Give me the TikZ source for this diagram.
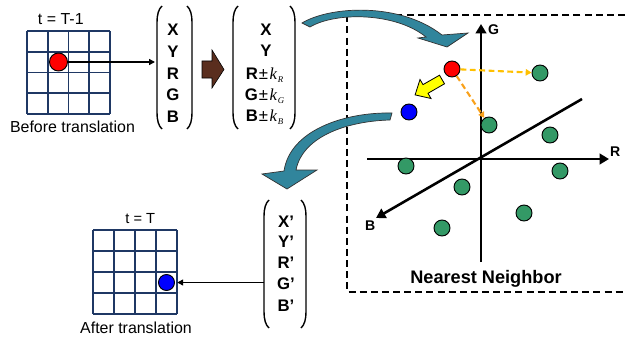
\documentclass[tikz,border=0pt]{standalone}
\usepackage{fontspec}
\setmainfont{Liberation Sans}
\newfontfamily\tnr{Liberation Serif}
\usetikzlibrary{arrows.meta}
\definecolor{gridblue}{HTML}{1F3864}
\definecolor{arrowteal}{HTML}{31859C}
\definecolor{dotgreen}{HTML}{339966}
\definecolor{arrowbrown}{HTML}{5A2E1E}
\definecolor{nnyellow}{HTML}{FFC000}
\definecolor{nnorange}{HTML}{F9A11B}
\definecolor{blockyellow}{HTML}{FFFF00}
\tikzset{
 gridline/.style={gridblue, line width=1.6pt},
 ptdot/.style={circle, draw=black, line width=0.8pt, minimum size=0.48cm, inner sep=0},
 conn/.style={line width=1.1pt, -{Triangle[length=5pt,width=5pt]}},
 paren/.style={line width=1.2pt},
 vecl/.style={font=\bfseries\fontsize{14.3}{16}\selectfont, anchor=base, inner sep=0},
 lbl/.style={font=\fontsize{13.6}{16}\selectfont, anchor=base, inner sep=0},
 axisline/.style={line width=2.2pt},
 axisarrow/.style={line width=2.2pt, -{Triangle[length=8pt,width=9pt]}},
 axlbl/.style={font=\bfseries\fontsize{12}{14}\selectfont, anchor=base west, inner sep=0},
 nnarrow/.style={line width=1.8pt, dash pattern=on 5pt off 3pt, -{Triangle[length=5pt,width=5.5pt]}},
 bigarrow/.style={fill=arrowteal, draw=black!80, line width=0.6pt},
 vecbox/.style={inner sep=0, minimum height=3.7cm},
}
\newcommand\myLParen[3]{\draw[paren] ({#1+5},#2) .. controls ({#1+1.5},{#2+3}) and (#1,{#2+9}) .. (#1,{#2+16}) -- (#1,{#3-16}) .. controls (#1,{#3-9}) and ({#1+1.5},{#3-3}) .. ({#1+5},#3);}
\newcommand\myRParen[3]{\draw[paren] ({#1-5},#2) .. controls ({#1-1.5},{#2+3}) and (#1,{#2+9}) .. (#1,{#2+16}) -- (#1,{#3-16}) .. controls (#1,{#3-9}) and ({#1-1.5},{#3-3}) .. ({#1-5},#3);}
\newcommand\pmk[2]{#1{\mdseries\hspace{0.8pt}±\hspace{1.5pt}}{\tnr\mdseries\itshape k\hspace{0.6pt}\raisebox{-2.8pt}{\fontsize{7.5}{8}\selectfont #2}}}
\begin{document}
\begin{tikzpicture}[x=0.03cm,y=-0.03cm]
\useasboundingbox (0,0) rectangle (625,339);

% ---------- top-left grid ----------
\foreach \i in {0,...,4} {
  \draw[gridline] ({27+\i*20.75},31) -- ({27+\i*20.75},114);
  \draw[gridline] (27,{31+\i*20.75}) -- (110,{31+\i*20.75});
}
\node[inner sep=0, minimum width=2.49cm, minimum height=2.49cm] (grid1) at (68.5,72.5) {};
\node[ptdot, fill=red, minimum size=0.54cm] (red1) at (58.5,62) {};
\node[lbl] (tlabel1) at (60.8,24.5) {t = T-1};
\node[lbl] (before) at (72.5,132) {Before translation};

% ---------- vector 1 ----------
\node[vecbox, minimum width=1.05cm] (vec1) at (174.5,67.5) {};
\myLParen{157}{6}{129}
\myRParen{192}{6}{129}
\node[vecl] (v1x) at (173,36) {X};
\node[vecl] (v1y) at (173,57.5) {Y};
\node[vecl] (v1r) at (173,79) {R};
\node[vecl] (v1g) at (173,100.5) {G};
\node[vecl] (v1b) at (173,122) {B};
\draw[conn, shorten >=1.5pt] (red1.east) -- (red1.east -| vec1.west);

% ---------- brown block arrow ----------
\draw[fill=arrowbrown, draw=black, line width=0.5pt]
  (202,61) -- (212,61) -- (212,50) -- (224,69.5) -- (212,88) -- (212,78) -- (202,78) -- cycle;

% ---------- vector 2 ----------
\node[vecbox, minimum width=1.86cm] (vec2) at (264,67.5) {};
\myLParen{233}{6}{129}
\myRParen{295}{6}{129}
\node[vecl] (v2x) at (266,35.5) {X};
\node[vecl] (v2y) at (266,57) {Y};
\node[vecl] (v2r) at (264.5,79) {\pmk{R}{R}};
\node[vecl] (v2g) at (264.5,100.5) {\pmk{G}{G}};
\node[vecl] (v2b) at (264.5,121.5) {\pmk{B}{B}};

% ---------- nearest neighbour box ----------
\draw[line width=1.9pt, dash pattern=on 6pt off 3.5pt] (625,15) -- (347,15) -- (347,292) -- (625,292);
\node[font=\bfseries\fontsize{15.5}{18}\selectfont, anchor=base, inner sep=0] (nn) at (486,283) {Nearest Neighbor};

% axes
\coordinate (origin) at (481,159);
\draw[axisline] (origin) -- (481,262);
\draw[axisarrow] (481,262) -- (481,24);
\draw[axisarrow] (367,159) -- (609,159);
\draw[axisarrow] (582,99) -- (376,218);
\node[axlbl] (Glab) at (488,34) {G};
\node[axlbl] (Rlab) at (610,156.5) {R};
\node[axlbl] (Blab) at (365,230) {B};

% dots
\node[ptdot, fill=dotgreen] (g1) at (540,73) {};
\node[ptdot, fill=dotgreen] (g2) at (489,125) {};
\node[ptdot, fill=dotgreen] (g3) at (550,135) {};
\node[ptdot, fill=dotgreen] (g4) at (406,166) {};
\node[ptdot, fill=dotgreen] (g5) at (560,171) {};
\node[ptdot, fill=dotgreen] (g6) at (462,187) {};
\node[ptdot, fill=dotgreen] (g7) at (442,228) {};
\node[ptdot, fill=dotgreen] (g8) at (524,213) {};
\node[ptdot, fill=red] (red2) at (452,69) {};
\node[ptdot, fill=blue] (blue2) at (409,112) {};

\draw[nnarrow, nnyellow] (red2) -- (g1);
\draw[nnarrow, nnorange] (red2) -- (g2);

% yellow block arrow
\draw[fill=blockyellow, draw=black, line width=0.7pt]
  (439.5,75.2) -- (423.0,84.6) -- (420.0,79.5) -- (415.1,94.9) -- (431.0,98.5) -- (428.0,93.3) -- (444.5,83.8) -- cycle;

% ---------- teal curved arrows ----------
\draw[bigarrow] (302,23) .. controls (330,6) and (400,2) .. (442,35) -- (468,33) -- (447,47) -- (418,38) -- (426,37)
  .. controls (395,12) and (335,12) .. (310,27) -- cycle;
\draw[bigarrow] (392,113) -- (390,120) .. controls (350,121) and (303,135) .. (296,170) -- (317,170) -- (287,189) -- (262,174) -- (284,171)
  .. controls (290,130) and (345,112) .. (392,113) -- cycle;

% ---------- vector 3 ----------
\node[vecbox, minimum width=1.26cm, minimum height=3.84cm] (vec3) at (285,264) {};
\myLParen{264}{200}{328}
\myRParen{306}{200}{328}
\node[vecl] (v3x) at (286,227) {X’};
\node[vecl] (v3y) at (286,247.5) {Y’};
\node[vecl] (v3r) at (286,268) {R’};
\node[vecl] (v3g) at (286,289.5) {G’};
\node[vecl] (v3b) at (286,311.5) {B’};

% ---------- bottom grid ----------
\foreach \i in {0,...,4} {
  \draw[gridline] ({93+\i*21},230) -- ({93+\i*21},314);
  \draw[gridline] (93,{230+\i*21}) -- (177,{230+\i*21});
}
\node[inner sep=0, minimum width=2.52cm, minimum height=2.52cm] (grid2) at (135,272) {};
\node[ptdot, fill=blue] (blue1) at (166.5,282.5) {};
\node[lbl, font=\fontsize{12.5}{15}\selectfont] (tlabel2) at (140.3,223.3) {t = T};
\node[lbl] (after) at (136,333) {After translation};
\draw[conn] (vec3.west |- blue1) -- (grid2.east |- blue1);

\end{tikzpicture}
\end{document}
